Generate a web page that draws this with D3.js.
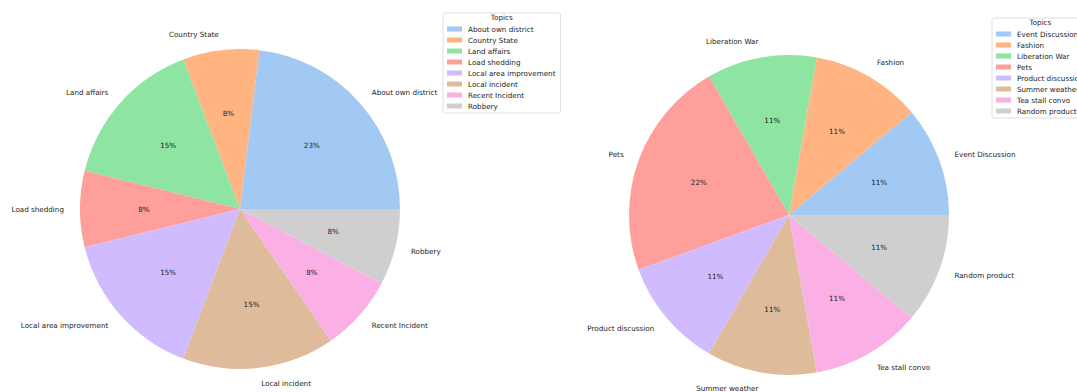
<!DOCTYPE html>
<html>
<head>
<meta charset="utf-8">
<script src="https://cdn.jsdelivr.net/npm/d3@7/dist/d3.min.js"></script>
<style>
  html, body { margin: 0; padding: 0; background: #fff; }
  svg { display: block; font-family: "DejaVu Sans", sans-serif; }
  .pie-label { font-size: 7.2px; fill: #222; }
  .pct-label { font-size: 7.2px; fill: #222; }
  .legend-text { font-size: 7.2px; fill: #222; }
</style>
</head>
<body>
<svg id="chart" width="1077" height="392"></svg>
<script>
// ---------------------------------------------------------------------------
// Data
// ---------------------------------------------------------------------------

const leftTopics = [
  "About own district", "Country State", "Land affairs", "Load shedding",
  "Local area improvement", "Local incident", "Recent Incident", "Robbery",
];
const leftCounts = [3, 1, 2, 1, 2, 2, 1, 1];

const rightTopics = [
  "Event Discussion", "Fashion", "Liberation War", "Pets",
  "Product discussion", "Summer weather", "Tea stall convo", "Random product",
];
const rightCounts = [1, 1, 1, 2, 1, 1, 1, 1];

const legendTitle = "Topics";

// seaborn "pastel" palette
const pastel = [
  "#a1c9f4", "#ffb482", "#8de5a1", "#ff9f9b",
  "#d0bbff", "#debb9b", "#fab0e4", "#cfcfcf",
];

// ---------------------------------------------------------------------------
// Layout
// ---------------------------------------------------------------------------

const RADIUS = 160;
const svg = d3.select("#chart");

/**
 * Draw a matplotlib-style pie: starts at 3 o'clock, goes counter-clockwise,
 * labels at 1.1r, percentages at 0.6r.
 */
function drawPie(cx, cy, topics, counts) {
  const data = topics.map((t, i) => ({ topic: t, value: counts[i], i }));
  const total = d3.sum(counts);

  const pie = d3.pie()
    .value((d) => d.value)
    .sort(null)
    .startAngle(Math.PI / 2)
    .endAngle(Math.PI / 2 - 2 * Math.PI);

  const arc = d3.arc().innerRadius(0).outerRadius(RADIUS);
  const pctArc = d3.arc().innerRadius(RADIUS * 0.6).outerRadius(RADIUS * 0.6);
  const lblArc = d3.arc().innerRadius(RADIUS * 1.1).outerRadius(RADIUS * 1.1);

  const color = d3.scaleOrdinal().domain(topics).range(pastel);

  const g = svg.append("g").attr("transform", `translate(${cx},${cy})`);
  const arcs = pie(data);

  g.selectAll("path.slice")
    .data(arcs)
    .join("path")
    .attr("class", "slice")
    .attr("d", arc)
    .attr("fill", (d) => color(d.data.topic));

  g.selectAll("text.pct-label")
    .data(arcs)
    .join("text")
    .attr("class", "pct-label")
    .attr("x", (d) => pctArc.centroid(d)[0])
    .attr("y", (d) => pctArc.centroid(d)[1])
    .attr("text-anchor", "middle")
    .attr("dominant-baseline", "central")
    .text((d) => Math.round((d.data.value / total) * 100) + "%");

  g.selectAll("text.pie-label")
    .data(arcs)
    .join("text")
    .attr("class", "pie-label")
    .attr("x", (d) => lblArc.centroid(d)[0])
    .attr("y", (d) => lblArc.centroid(d)[1])
    .attr("text-anchor", (d) => (lblArc.centroid(d)[0] > 0 ? "start" : "end"))
    .attr("dominant-baseline", "central")
    .text((d) => d.data.topic);

  return color;
}

function drawLegend(x, y, topics, color) {
  const g = svg.append("g").attr("transform", `translate(${x},${y})`);
  const box = g.append("rect")
    .attr("rx", 2)
    .attr("fill", "#fff")
    .attr("fill-opacity", 0.8)
    .attr("stroke", "#d8d8d8")
    .attr("stroke-width", 0.8);

  const rowY = d3.scaleLinear().domain([0, 1]).range([16, 27]);

  const rows = g.selectAll("g.row")
    .data(topics)
    .join("g")
    .attr("class", "row")
    .attr("transform", (d, i) => `translate(0,${rowY(i)})`);

  rows.append("rect")
    .attr("x", 4)
    .attr("y", -2.5)
    .attr("width", 15)
    .attr("height", 5)
    .attr("fill", (d) => color(d));

  rows.append("text")
    .attr("class", "legend-text")
    .attr("x", 25)
    .attr("dominant-baseline", "central")
    .text((d) => d);

  let maxW = 0;
  rows.selectAll("text").each(function () {
    maxW = Math.max(maxW, this.getComputedTextLength());
  });
  const w = 25 + maxW + 5;
  const h = rowY(topics.length - 1) + 7;
  box.attr("width", w).attr("height", h);

  g.append("text")
    .attr("class", "legend-text")
    .attr("x", w / 2)
    .attr("y", 4.5)
    .attr("text-anchor", "middle")
    .attr("dominant-baseline", "central")
    .text(legendTitle);
}

const leftColor = drawPie(240, 209, leftTopics, leftCounts);
drawLegend(443, 13, leftTopics, leftColor);

const rightColor = drawPie(789, 215, rightTopics, rightCounts);
drawLegend(992, 18, rightTopics, rightColor);
</script>
</body>
</html>
